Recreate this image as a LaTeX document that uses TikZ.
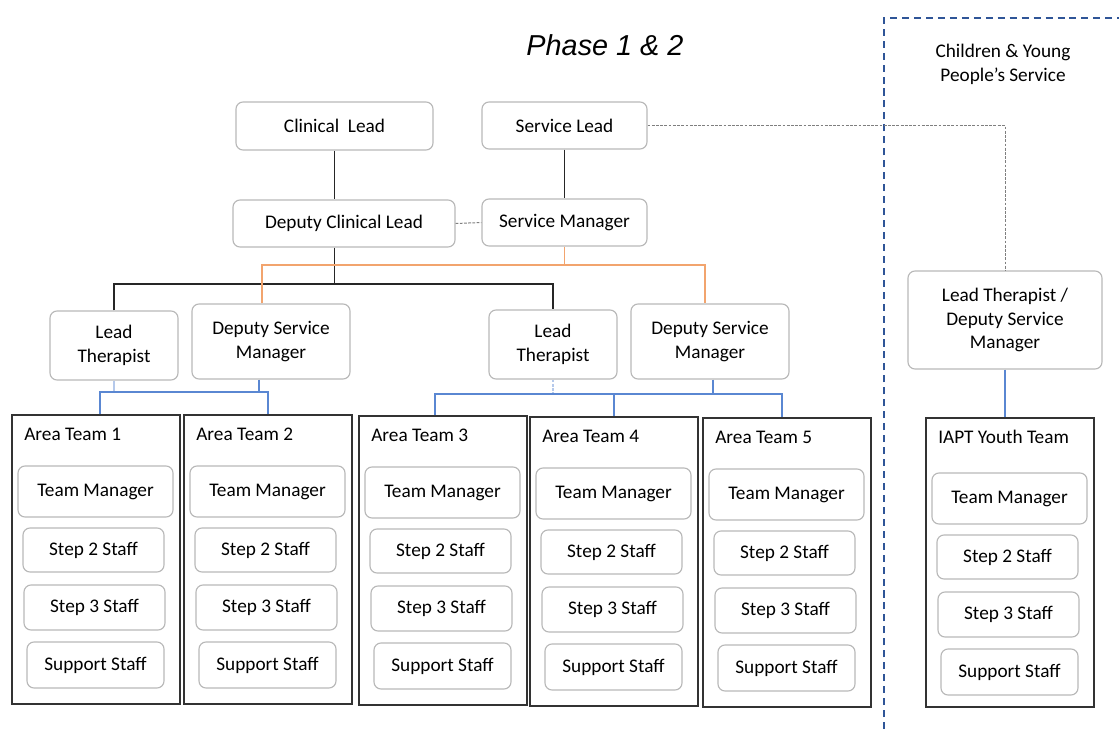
\documentclass[tikz,border=0pt]{standalone}
\usepackage{fontspec}
\setmainfont{Carlito}
\newfontfamily\titlefont{Liberation Sans}
\usetikzlibrary{calc}
\newlength\ux
\setlength\ux{0.025cm}
\definecolor{boxgray}{HTML}{B8B8B8}
\definecolor{linkgray}{HTML}{7F7F7F}
\definecolor{orgorange}{HTML}{F2A46E}
\definecolor{orgblue}{HTML}{5A87D2}
\definecolor{cypblue}{HTML}{2F5597}
\tikzset{
  sz/.style 2 args={minimum width=#1*\ux, minimum height=#2*\ux},
  rbox/.style={draw=boxgray, line width=0.8pt, rounded corners=5pt, align=center,
    inner sep=0pt, font=\fontsize{13.7}{17}\selectfont},
  teambox/.style={draw=black!80, line width=1pt, inner sep=0pt},
  teamlabel/.style={anchor=west, inner sep=0pt, font=\fontsize{13.7}{17}\selectfont},
  blk/.style={line width=1pt, black!85},
  orng/.style={line width=0.9pt, orgorange},
  blu/.style={line width=0.9pt, orgblue},
  gdash/.style={line width=0.7pt, linkgray, dash pattern=on 2pt off 1pt},
}

\begin{document}
\begin{tikzpicture}[x=0.025cm, y=-0.025cm]
\useasboundingbox (0,0) rectangle (1119,729);

% heading and CYP service frame
\node (title) at (605,45) {\titlefont\itshape\fontsize{20.5}{24}\selectfont Phase 1 \& 2};
\draw[cypblue, line width=0.8pt, dash pattern=on 5pt off 3.5pt] (884,729) -- (884,18) -- (1119,18);
\node[align=center, font=\fontsize{13.7}{17}\selectfont] (cyptext) at (1003,64) {Children \& Young\\People’s Service};

% top of the structure
\node[rbox, sz={197}{48}] (cl) at (334.5,126) {Clinical\ \ Lead};
\node[rbox, sz={165}{47}] (sl) at (564.5,125.5) {Service Lead};
\node[rbox, sz={222}{47}] (dcl) at (344,223.5) {Deputy Clinical Lead};
\node[rbox, sz={165}{47}] (sm) at (564.5,222.5) {Service Manager};

\node[rbox, sz={128}{69}] (lt1) at (114,345.5) {Lead\\Therapist};
\node[rbox, sz={158}{75}] (dsm1) at (271,341.5) {Deputy Service\\Manager};
\node[rbox, sz={128}{69}] (lt2) at (553,344.5) {Lead\\Therapist};
\node[rbox, sz={158}{75}] (dsm2) at (710,341.5) {Deputy Service\\Manager};
\node[rbox, sz={194}{98}] (cyp) at (1005,320) {Lead Therapist /\\Deputy Service\\Manager};

% teams
\foreach \i/\x/\y/\d/\name in {1/12/415/0/Area Team 1, 2/184/415/0/Area Team 2,
    3/359/416/0/Area Team 3, 4/530/417/0/Area Team 4, 5/703/418/0/Area Team 5,
    6/926/418/4/IAPT Youth Team} {
  \node[teambox, sz={168}{289}] (at\i) at (\x+84,\y+144.5) {};
  \node[teamlabel] (name\i) at (\x+12,\y+19) {\name};
  \node[rbox, sz={155}{51}] (tm\i) at (\x+83.5,\y+\d+76.5) {Team Manager};
  \node[rbox, sz={141}{44}] (stwo\i) at (\x+81.5,\y+\d+135) {Step 2 Staff};
  \node[rbox, sz={141}{45}] (sthree\i) at (\x+82.5,\y+\d+192.5) {Step 3 Staff};
  \node[rbox, sz={137}{46}] (sup\i) at (\x+83.5,\y+\d+250) {Support Staff};
}

% black links
\coordinate (kbar) at (334.5,284);
\draw[blk] (cl.south) -- (cl.south |- dcl.north);
\draw[blk] (sl.south) -- (sm.north);
\draw[blk] (cl.south |- dcl.south) -- (kbar);
\draw[blk] (lt1.north) |- (kbar) -| (lt2.north);

% orange links
\coordinate (obar) at (sm.south |- 0,265);
\draw[orng] (sm.south) -- (obar);
\draw[orng] ($(dsm1.north)+(-9,0)$) |- (obar) -| ($(dsm2.north)+(-5,0)$);

% dotted links
\draw[gdash] (dcl.east) -- (sm.west);
\draw[gdash] (sl.east) -| (cyp.north);

% blue links
\coordinate (bbar1) at (180,392);
\coordinate (bbar2) at (610,394);
\draw[blu, orgblue!45] (lt1.south) -- (lt1.south |- bbar1);
\draw[blu] ($(dsm1.south)+(-12,0)$) -- ($(dsm1.south |- bbar1)+(-12,0)$);
\draw[blu] ($(at1.north)+(4,0)$) |- (bbar1) -| (at2.north);
\draw[blu, orgblue!45, dash pattern=on 2pt off 1pt] (lt2.south) -- (lt2.south |- bbar2);
\draw[blu] ($(dsm2.south)+(3,0)$) -- ($(dsm2.south |- bbar2)+(3,0)$);
\draw[blu] ($(at3.north)+(-8,0)$) |- (bbar2) -| ($(at5.north)+(-5,0)$);
\draw[blu] (at4.north |- bbar2) -- (at4.north);
\draw[blu] (cyp.south) -- (cyp.south |- at6.north);
\end{tikzpicture}
\end{document}
